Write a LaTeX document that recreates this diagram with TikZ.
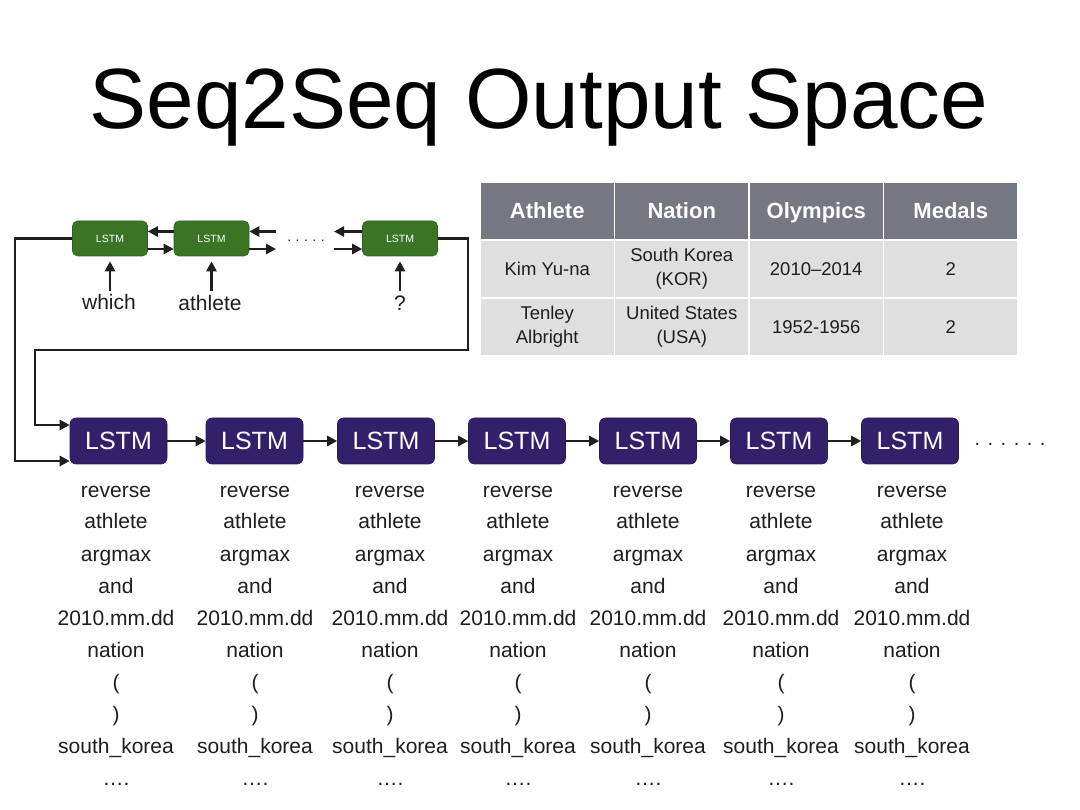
\documentclass[tikz,border=0pt]{standalone}
\usepackage{fontspec}
\setmainfont{Liberation Sans}
\usetikzlibrary{arrows.meta}
\definecolor{lstmgreen}{HTML}{3A7526}
\definecolor{lstmpurple}{HTML}{33206B}
\definecolor{hdrgray}{HTML}{737882}
\definecolor{cellgray}{HTML}{DFDFE0}
\definecolor{ink}{HTML}{1E1E1E}
\begin{document}
\begin{tikzpicture}[x=1pt,y=-1pt,
  topbox/.style={rectangle, rounded corners=5pt, fill=lstmgreen, draw=lstmgreen!80!black, line width=0.6pt, minimum width=75pt, minimum height=35pt, text=white, font=\fontsize{10.5}{12}\selectfont, inner sep=0pt},
  botbox/.style={rectangle, rounded corners=6pt, fill=lstmpurple, draw=lstmpurple!80!black, line width=0.6pt, minimum width=97pt, minimum height=46pt, text=white, font=\fontsize{25}{30}\selectfont, inner sep=0pt},
  conn/.style={line width=2.6pt, draw=ink},
  arr/.style={conn, -{Triangle[length=10pt,width=10pt]}},
  word/.style={font=\fontsize{21}{24}\selectfont, text=ink, inner sep=0pt},
  colword/.style={font=\fontsize{21}{24}\selectfont, text=ink, inner sep=0pt, anchor=base},
  hdr/.style={rectangle, fill=hdrgray, draw=white, line width=1.5pt, minimum width=134.5pt, minimum height=58pt, text height=16pt, text depth=0pt, text=white, font=\fontsize{22}{25}\selectfont\bfseries, inner sep=0pt},
  cell/.style={rectangle, fill=cellgray, draw=white, line width=1.5pt, minimum width=134.5pt, minimum height=58pt, text=ink, align=center, font=\fontsize{18.5}{24}\selectfont, inner sep=0pt},
  dots/.style={font=\fontsize{14}{16}\selectfont, text=ink, inner sep=0pt, anchor=base},
]
\useasboundingbox[fill=white] (0,0) rectangle (1080,810);

% title
\node[font=\fontsize{85.5}{100}\selectfont, anchor=base, inner sep=0pt] (title) at (539,129) {Seq2Seq Output Space};

% table
\node[hdr] (h1) at (547.25,211) {Athlete};
\node[hdr] (h2) at (681.75,211) {Nation};
\node[hdr] (h3) at (816.25,211) {Olympics};
\node[hdr] (h4) at (950.75,211) {Medals};
\node[cell] (r1c1) at (547.25,269) {Kim Yu-na};
\node[cell] (r1c2) at (681.75,269) {South Korea\\(KOR)};
\node[cell] (r1c3) at (816.25,269) {2010–2014};
\node[cell] (r1c4) at (950.75,269) {2};
\node[cell] (r2c1) at (547.25,327) {Tenley\\Albright};
\node[cell] (r2c2) at (681.75,327) {United States\\(USA)};
\node[cell] (r2c3) at (816.25,327) {1952-1956};
\node[cell] (r2c4) at (950.75,327) {2};

% encoder
\node[topbox] (t1) at (110,238.5) {LSTM};
\node[topbox] (t2) at (211.5,238.5) {LSTM};
\node[topbox] (t3) at (400,238.5) {LSTM};
\coordinate (e1a) at (276,231.5);
\coordinate (e1b) at (276,249);
\coordinate (e2a) at (334,231.5);
\coordinate (e2b) at (334,249);
\draw[arr] (t2.west |- e1a) -- (t1.east |- e1a);
\draw[arr] (t1.east |- e1b) -- (t2.west |- e1b);
\draw[arr] (e1a) -- (t2.east |- e1a);
\draw[arr] (t2.east |- e1b) -- (e1b);
\draw[arr] (t3.west |- e2a) -- (e2a);
\draw[arr] (e2b) -- (t3.west |- e2b);
\node[dots] (tdots) at (306,242) {.\hspace{4.5pt}.\hspace{4.5pt}.\hspace{4.5pt}.\hspace{4.5pt}.};

\node[word, anchor=base] (w1) at (109,310) {which};
\node[word, anchor=base] (w2) at (210,311) {athlete};
\node[word, anchor=base] (w3) at (400,311) {?};
\coordinate (u1) at (110,291);
\coordinate (u2) at (211.5,291);
\coordinate (u3) at (400,291);
\draw[arr, shorten >=5pt] (u1) -- (t1.south);
\draw[arr, shorten >=5pt] (u2) -- (t2.south);
\draw[arr, shorten >=5pt] (u3) -- (t3.south);

% decoder
\foreach \i/\x in {1/118.5,2/254.5,3/386,4/517,5/648,6/779,7/910}{
  \node[botbox] (b\i) at (\x,441) {LSTM};
}
\foreach \i [evaluate=\i as \j using int(\i+1)] in {1,...,6}{
  \draw[arr] (b\i.east) -- (b\j.west);
}
\node[dots, font=\fontsize{20}{22}\selectfont] (bdots) at (1010,446) {.\hspace{7.5pt}.\hspace{7.5pt}.\hspace{7.5pt}.\hspace{7.5pt}.\hspace{7.5pt}.};

% feedback connectors
\draw[arr] (t1.west) -| (15,461) -- (b1.west |- 0,461);
\draw[arr] (t3.east) -| (468,350) -| (35,425) -- (b1.west |- 0,425);

% output columns
\foreach \c/\x in {1/116,2/255,3/390,4/518,5/648,6/781,7/912}{
  \foreach \k/\w in {0/reverse,1/athlete,2/argmax,3/and,4/2010.mm.dd,5/nation,6/(,7/),8/south\_korea,9/….}{
    \node[colword] (o\c-\k) at (\x,497+32*\k) {\w};
  }
}
\end{tikzpicture}
\end{document}
